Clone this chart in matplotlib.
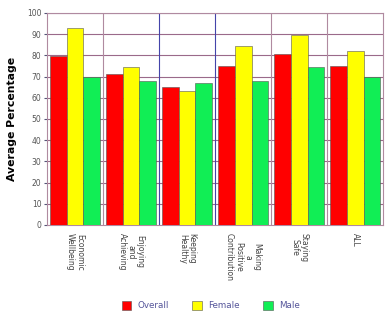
import matplotlib
matplotlib.use("Agg")
import matplotlib.pyplot as plt
import numpy as np

categories = ["Economic\nWellbeing", "Enjoying\nand\nAchieving", "Keeping\nHealthy",
              "Making\na\nPositive\nContribution", "Staying\nSafe", "ALL"]
overall = [79.5, 71, 65, 75, 80.5, 75]
female = [93, 74.5, 63, 84.5, 89.5, 82]
male = [70, 68, 67, 68, 74.5, 70]
series_names = ["Overall", "Female", "Male"]
colors = ["#ff0000", "#ffff00", "#11ee55"]

fig = plt.figure(figsize=(3.9, 3.15), dpi=100)
ax = fig.add_axes([0.1205, 0.286, 0.862, 0.673])

x = np.arange(len(categories))
w = 0.3
for i, (vals, name, c) in enumerate(zip([overall, female, male], series_names, colors)):
    ax.bar(x + (i - 1) * w, vals, width=w, color=c, edgecolor="#555555",
           linewidth=0.4, label=name, zorder=3)

ax.set_xlim(-0.5, len(categories) - 0.5)
ax.set_ylim(0, 100)
ax.set_yticks(np.arange(0, 101, 10))
ax.set_yticklabels([str(v) for v in range(0, 101, 10)], fontsize=5.5, color="#555555")
ax.set_xticks(x)
ax.set_xticklabels(categories, rotation=270, fontsize=5.5, color="#444444",
                   va="top", ha="center", linespacing=1.0)
ax.tick_params(axis="x", length=0, pad=6)
ax.tick_params(axis="y", length=2, color="#555577", pad=2)

# grid
for yv in range(10, 101, 10):
    ax.axhline(yv, color="#9a6a8a", lw=0.8, zorder=1)
for b in np.arange(0.5, len(categories) - 0.5, 1):
    col = "#4444aa" if b in (1.5, 2.5) else "#b08aa0"
    ax.axvline(b, color=col, lw=0.8, zorder=1)
for s in ax.spines.values():
    s.set_color("#b08aa0")
    s.set_linewidth(0.8)

ax.set_ylabel("Average Percentage", fontsize=7.8, fontweight="bold", labelpad=7)

handles, labels = ax.get_legend_handles_labels()
fig.legend(handles, labels, loc="lower center", bbox_to_anchor=(0.54, -0.01), ncol=3,
           frameon=False, fontsize=6.3, handlelength=1.1, handleheight=1.1,
           columnspacing=2.7, handletextpad=0.7, labelcolor="#55559a")

fig.savefig("out.png", dpi=100)
